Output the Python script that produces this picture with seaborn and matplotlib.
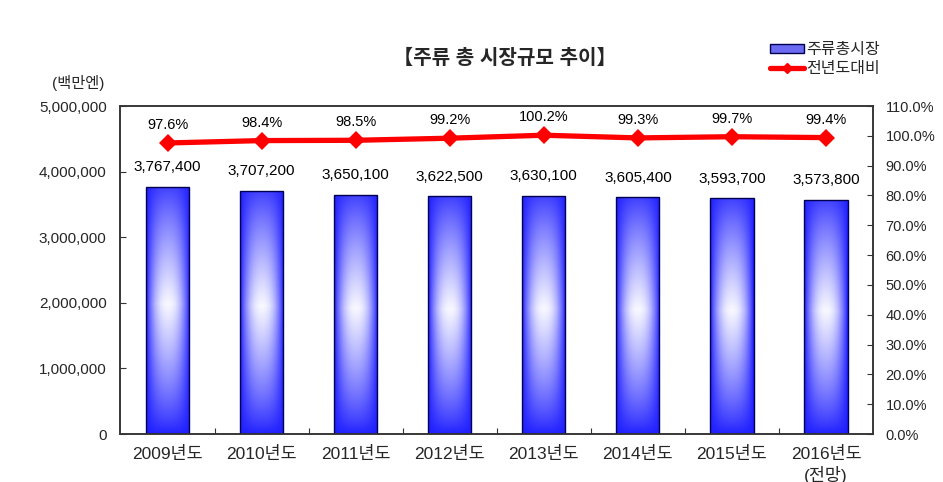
"""주류 총 시장규모 추이 - bar + line combo chart"""

import matplotlib
matplotlib.use("Agg")
import matplotlib.pyplot as plt
import matplotlib.ticker as mticker
from matplotlib.lines import Line2D
from matplotlib.patches import Patch
import numpy as np
import seaborn as sns

# data
years = ["2009년도", "2010년도", "2011년도", "2012년도",
         "2013년도", "2014년도", "2015년도", "2016년도\n(전망)"]
market_size = [3767400, 3707200, 3650100, 3622500,
               3630100, 3605400, 3593700, 3573800]
yoy_pct = [97.6, 98.4, 98.5, 99.2, 100.2, 99.3, 99.7, 99.4]

title = "【주류 총 시장규모 추이】"
unit_label = "(백만엔)"
bar_name = "주류총시장"
line_name = "전년도대비"

sns.set_theme(style="white")
plt.rcParams["font.family"] = ["Liberation Sans", "Noto Sans CJK KR", "DejaVu Sans"]


def bar_gradient(h=240, w=80):
    """Blue edges fading to a soft white glow in the middle of the bar."""
    u = np.linspace(-1, 1, w)[None, :]
    v = np.linspace(-1, 1, h)[:, None]
    wu = 1 - np.abs(u) ** 2.2
    wv = np.clip(1 - np.abs(v + 0.05) / 1.05, 0, 1) ** 0.8
    white = np.clip(wu * wv, 0, 1)[..., None] * 0.97
    blue = np.array([0.12, 0.12, 1.0])
    return blue * (1 - white) + white


fig = plt.figure(figsize=(9.43, 4.82), dpi=100)
ax = fig.add_axes([120.5 / 943, 1 - 434 / 482, (873 - 120.5) / 943, (434 - 106) / 482])

sns.barplot(x=years, y=market_size, ax=ax, width=0.46,
            facecolor="none", edgecolor="#000050", linewidth=1.0, zorder=3)

grad = bar_gradient()
for p in ax.patches:
    x0, w, h = p.get_x(), p.get_width(), p.get_height()
    im = ax.imshow(grad, extent=[x0, x0 + w, 0, h], aspect="auto",
                   interpolation="bilinear", zorder=2)
    im.set_clip_path(p)

ax.set_xlim(-0.5, len(years) - 0.5)
ax.set_ylim(0, 5_000_000)
ax.yaxis.set_major_locator(mticker.MultipleLocator(1_000_000))
ax.yaxis.set_major_formatter(mticker.FuncFormatter(lambda v, _: f"{v:,.0f}"))

for i, val in enumerate(market_size):
    ax.annotate(f"{val:,}", (i, val), xytext=(0, 14), textcoords="offset points",
                ha="center", va="center", fontsize=11, color="black")

# YoY line on the right axis
ax2 = ax.twinx()
sns.lineplot(x=np.arange(len(years)), y=yoy_pct, ax=ax2, color="#ff0000",
             linewidth=3.8, marker="D", markersize=9, markeredgewidth=0, zorder=5)
ax2.set_ylim(0, 110)
ax2.yaxis.set_major_locator(mticker.MultipleLocator(10))
ax2.yaxis.set_major_formatter(mticker.FuncFormatter(lambda v, _: f"{v:.1f}%"))
ax2.set_xlim(-0.5, len(years) - 0.5)

for i, val in enumerate(yoy_pct):
    ax2.annotate(f"{val:.1f}%", (i, val), xytext=(0, 13), textcoords="offset points",
                 ha="center", va="center", fontsize=10.5, color="black")

# axes styling
for a in (ax, ax2):
    for s in a.spines.values():
        s.set_visible(True)
        s.set_color("#333333")
        s.set_linewidth(1.1)
    a.grid(False)
    a.set_xlabel("")
    a.set_ylabel("")

ax.tick_params(axis="y", direction="in", length=4, width=0.8, color="#333333",
               labelsize=11, pad=10, left=True)
ax2.tick_params(axis="y", direction="in", length=4, width=0.8, color="#333333",
                labelsize=10.5, pad=9, right=True)

ax.set_xticks(range(len(years)))
ax.set_xticklabels(years, fontsize=12.5, linespacing=1.2, va="top")
ax.set_xticks(np.arange(0.5, len(years) - 0.5), minor=True)
ax.tick_params(axis="x", which="major", length=0, pad=9)
ax.tick_params(axis="x", which="minor", direction="in", length=4, width=0.8,
               color="#333333", bottom=True)
ax2.tick_params(axis="x", which="both", length=0, labelbottom=False)

# title, unit, legend
fig.text(505 / 943, 1 - 58 / 482, title, ha="center", va="center",
         fontsize=14.5, fontweight="bold")
fig.text(78 / 943, 1 - 83 / 482, unit_label, ha="center", va="center", fontsize=11)

handles = [
    Patch(facecolor="#6a6af2", edgecolor="#000050", linewidth=1.0),
    Line2D([], [], color="#ff0000", linewidth=3.8, marker="D", markersize=5),
]
ax2.legend(handles, [bar_name, line_name], loc="upper left",
           bbox_to_anchor=(762 / 943, 1 - 34 / 482), bbox_transform=fig.transFigure,
           frameon=False, fontsize=11.5, handlelength=2.1, handleheight=0.5,
           handletextpad=0.15, labelspacing=0.25, borderpad=0)

fig.savefig("out.png", dpi=100)
